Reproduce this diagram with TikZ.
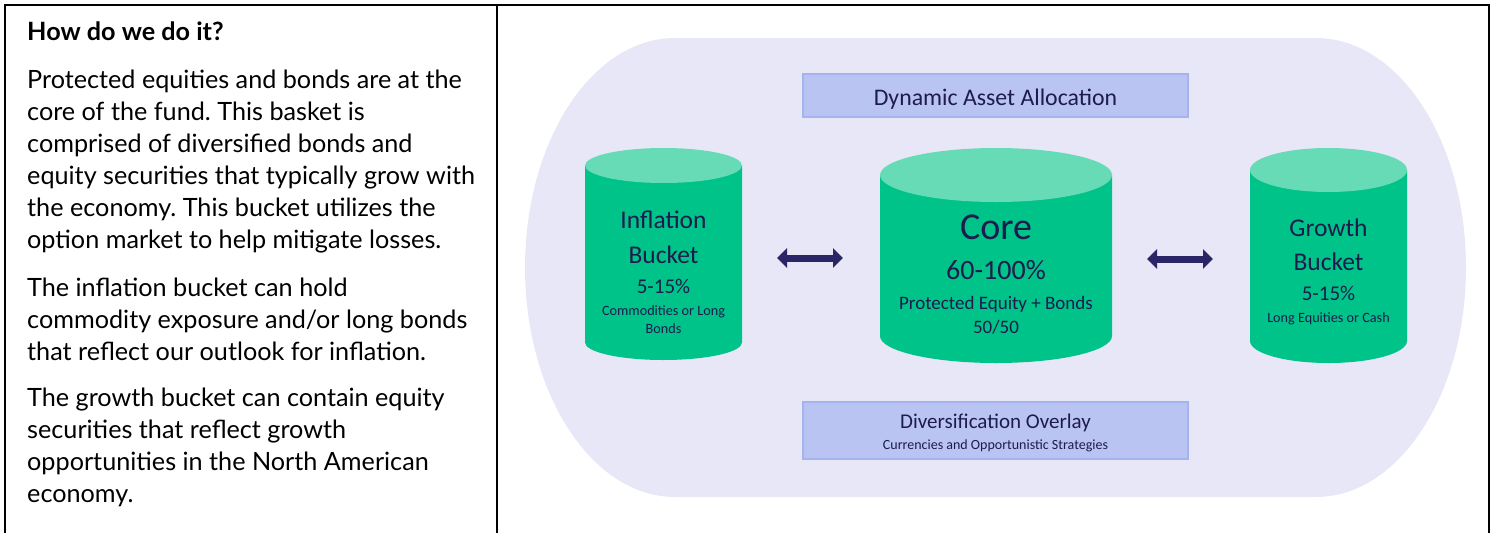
\documentclass[tikz,border=0pt]{standalone}
\usepackage{fontspec}
\setmainfont{Lato}
\newfontfamily\diagfont{Carlito}
\usetikzlibrary{arrows.meta}

\definecolor{ovalfill}{HTML}{E8E7F7}
\definecolor{boxfill}{HTML}{B9C4F3}
\definecolor{boxline}{HTML}{A5B3EE}
\definecolor{bodygreen}{HTML}{00C389}
\definecolor{topgreen}{HTML}{66DBB5}
\definecolor{inkblue}{HTML}{1E1B4D}
\definecolor{arrowblue}{HTML}{2A2566}

\tikzset{
  bodytext/.style={anchor=base west, inner sep=0pt},
  labeltext/.style={anchor=base, inner sep=0pt, text=inkblue},
  bandbox/.style={fill=boxfill, draw=boxline, line width=1.5pt},
  swaparrow/.style={arrowblue, line width=7pt, {Triangle[width=19pt,length=10pt]}-{Triangle[width=19pt,length=10pt]}},
}

\newcommand{\bodyfont}{\fontsize{25.2}{32}\selectfont\frenchspacing}
\newcommand{\lbl}[1]{\diagfont\fontsize{#1}{#1}\selectfont}

\begin{document}
\begin{tikzpicture}[x=1pt,y=-1pt]
        \useasboundingbox (0,0) rectangle (1499,533);

        % Table frame
        \draw[line width=2pt] (5,533) -- (5,5) -- (1489,5) -- (1489,533);
        \draw[line width=2pt] (497,5) -- (497,533);

        % Left column text
        \node[bodytext] (how) at (27,40) {\bodyfont\bfseries How do we do it?};
        \node[bodytext] (para1) at (27,88) {\parbox[t]{465pt}{\bodyfont
            Protected equities and bonds are at the\\
            core of the fund. This basket is\\
            comprised of diversified bonds and\\
            equity securities that typically grow with\\
            the economy. This bucket utilizes the\\
            option market to help mitigate losses.}};
        \node[bodytext] (para2) at (27,296) {\parbox[t]{465pt}{\bodyfont
            The inflation bucket can hold\\
            commodity exposure and/or long bonds\\
            that reflect our outlook for inflation.}};
        \node[bodytext] (para3) at (27,406) {\parbox[t]{465pt}{\bodyfont
            The growth bucket can contain equity\\
            securities that reflect growth\\
            opportunities in the North American\\
            economy.}};

        % Background oval
        \fill[ovalfill] (675,38) -- (1316,38)
            arc[start angle=-90, end angle=90, x radius=150, y radius=229.5]
            -- (675,497)
            arc[start angle=90, end angle=270, x radius=150, y radius=229.5] -- cycle;

        % Top and bottom bands
        \draw[bandbox] (803,74) rectangle (1188,117);
        \node[labeltext] (dyn) at (995.5,105) {\lbl{23.8}Dynamic Asset Allocation};
        \draw[bandbox] (803,402) rectangle (1188,459);
        \node[labeltext] (div) at (995.5,428) {\lbl{21}Diversification Overlay};
        \node[labeltext] (divsub) at (995.5,449) {\lbl{14}Currencies and Opportunistic Strategies};

        % Inflation bucket
        \fill[bodygreen] (585,165.5) -- (585,342.5)
            arc[start angle=180, end angle=0, x radius=78.5, y radius=17.5] -- (742,165.5) -- cycle;
        \fill[topgreen] (663.5,165.5) ellipse[x radius=78.5, y radius=17.5];
        \node[labeltext] (inflA) at (663.5,228) {\lbl{25.5}Inflation};
        \node[labeltext] (inflB) at (663.5,263) {\lbl{25.5}Bucket};
        \node[labeltext] (inflC) at (663.5,293) {\lbl{21}5-15\%};
        \node[labeltext] (inflD) at (663.5,315) {\lbl{14.2}Commodities or Long};
        \node[labeltext] (inflE) at (663.5,333) {\lbl{14.2}Bonds};

        % Core bucket
        \fill[bodygreen] (880,175) -- (880,336)
            arc[start angle=180, end angle=0, x radius=116, y radius=27] -- (1112,175) -- cycle;
        \fill[topgreen] (996,175) ellipse[x radius=116, y radius=27];
        \node[labeltext] (coreA) at (996,239) {\lbl{38}Core};
        \node[labeltext] (coreB) at (996,279) {\lbl{28}60-100\%};
        \node[labeltext] (coreC) at (996,309) {\lbl{19}Protected Equity + Bonds};
        \node[labeltext] (coreD) at (996,333) {\lbl{19}50/50};

        % Growth bucket
        \fill[bodygreen] (1250,170) -- (1250,341)
            arc[start angle=180, end angle=0, x radius=78.5, y radius=22] -- (1407,170) -- cycle;
        \fill[topgreen] (1328.5,170) ellipse[x radius=78.5, y radius=22];
        \node[labeltext] (growA) at (1328.5,236) {\lbl{25.5}Growth};
        \node[labeltext] (growB) at (1328.5,270) {\lbl{25.5}Bucket};
        \node[labeltext] (growC) at (1328.5,300) {\lbl{21}5-15\%};
        \node[labeltext] (growD) at (1328.5,322) {\lbl{14.2}Long Equities or Cash};

        % Exchange arrows
        \coordinate (swapL1) at (777,258);
        \coordinate (swapL2) at (843,258);
        \coordinate (swapR1) at (1147,259);
        \coordinate (swapR2) at (1213,259);
        \draw[swaparrow] (swapL1) -- (swapL2);
        \draw[swaparrow] (swapR1) -- (swapR2);
\end{tikzpicture}
\end{document}
